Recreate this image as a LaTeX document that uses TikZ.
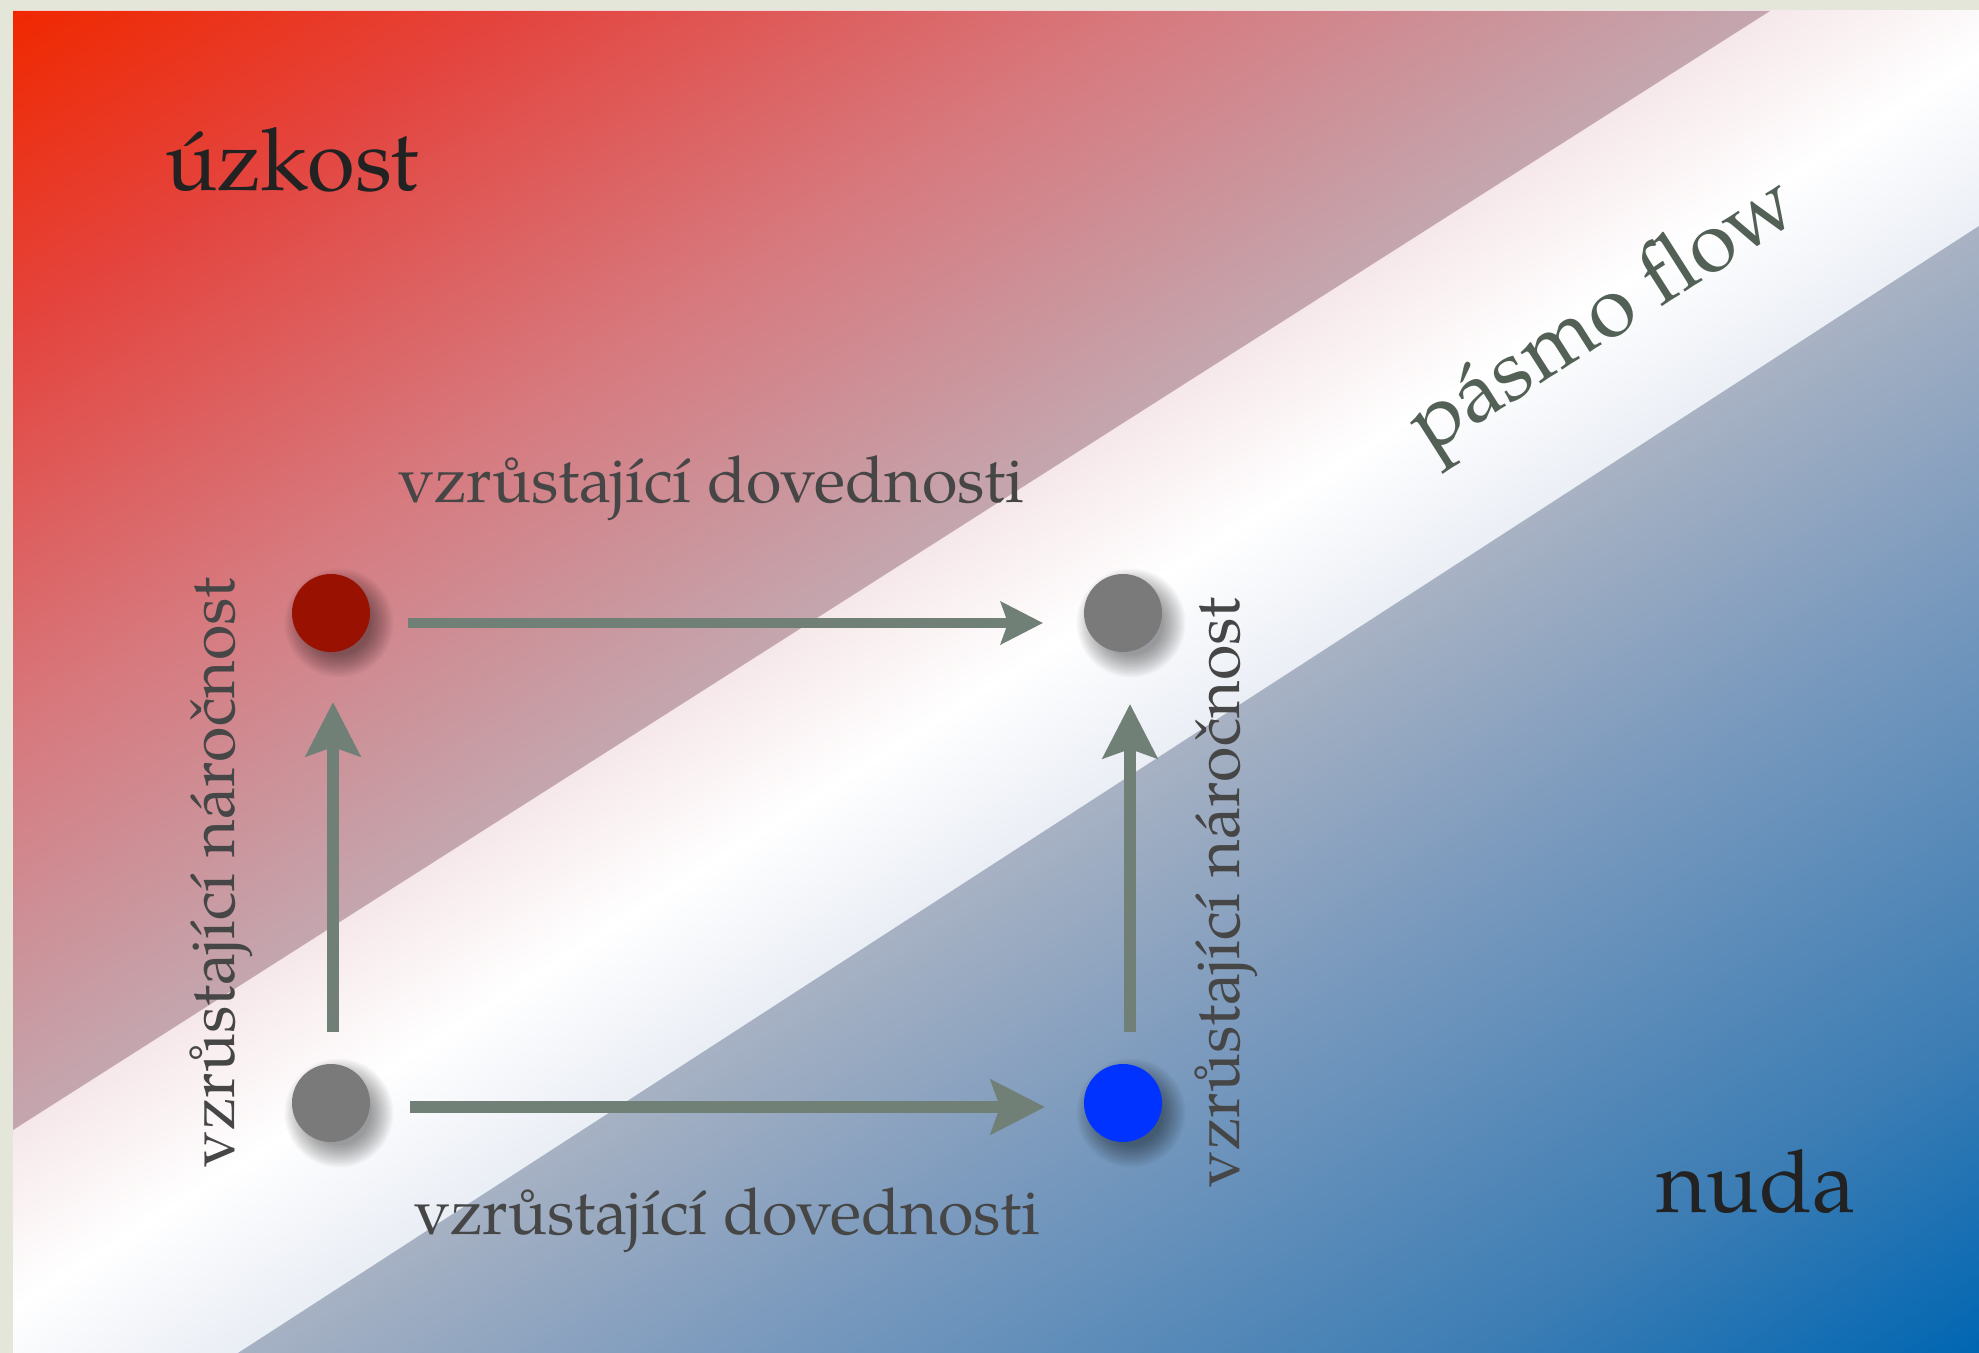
\documentclass[tikz,border=0pt]{standalone}
\usepackage{fontspec}
\setmainfont{texgyrepagella-regular.otf}
\usetikzlibrary{arrows.meta}
\definecolor{paper}{RGB}{228,230,218}
\definecolor{dotred}{RGB}{153,17,0}
\definecolor{dotgrey}{RGB}{122,122,122}
\definecolor{dotblue}{RGB}{0,51,255}
\definecolor{arrcol}{RGB}{112,128,119}
\definecolor{bigtxt}{RGB}{34,34,34}
\definecolor{midtxt}{RGB}{70,70,70}
\definecolor{flowtxt}{RGB}{82,96,86}
\pgfdeclarehorizontalshading{shup}{1250pt}{rgb(0pt)=(0.941,0.157,0); rgb(8pt)=(0.941,0.157,0); rgb(143.5pt)=(0.894,0.267,0.243); rgb(310pt)=(0.843,0.471,0.490); rgb(480pt)=(0.769,0.651,0.686); rgb(500pt)=(0.769,0.651,0.686)}
\pgfdeclarehorizontalshading{shband}{1250pt}{rgb(0pt)=(0.965,0.910,0.918); rgb(480pt)=(0.965,0.910,0.918); rgb(555pt)=(1,1,1); rgb(631pt)=(0.918,0.933,0.961); rgb(1120pt)=(0.918,0.933,0.961)}
\pgfdeclarehorizontalshading{shlow}{1250pt}{rgb(0pt)=(0.659,0.698,0.765); rgb(628pt)=(0.659,0.698,0.765); rgb(759pt)=(0.490,0.608,0.745); rgb(967.5pt)=(0.235,0.490,0.706); rgb(1101.5pt)=(0,0.4,0.698); rgb(1120pt)=(0,0.4,0.698)}
\pgfdeclarelayer{back}
\pgfdeclarelayer{shadowlayer}
\pgfsetlayers{back,shadowlayer,main}
\tikzset{
  shadenode/.style={inner sep=0pt, outer sep=0pt, anchor=west, rotate=-57.5},
  dot/.style={circle, inner sep=0pt, outer sep=0pt, minimum size=39pt, draw=none},
  arrA/.style={draw=arrcol, line width=5pt, -{Stealth[length=21pt,width=21pt,inset=3.5pt]}},
  arrB/.style={draw=arrcol, line width=6.25pt, -{Stealth[length=27pt,width=27pt,inset=4.5pt]}},
  bigl/.style={inner sep=0pt, outer sep=0pt, text=bigtxt, font=\fontsize{43.5pt}{52pt}\selectfont},
  midl/.style={inner sep=0pt, outer sep=0pt, text=midtxt, font=\fontsize{32.3pt}{38pt}\selectfont},
  flowl/.style={inner sep=0pt, outer sep=0pt, text=flowtxt, font=\fontsize{42.8pt}{50pt}\selectfont}
}
\begin{document}
\begin{tikzpicture}[x=0.5pt,y=-0.5pt]
\useasboundingbox (0,0) rectangle (1979,1353);
\begin{pgfonlayer}{back}
\fill[paper] (0,0) rectangle (1979,1353);
\begin{scope}
\clip (13,11) rectangle (1979,1353);
\node[shadenode] (s1) at (399,-254) {\pgfuseshading{shband}};
\end{scope}
\begin{scope}
\clip (13,11) -- (1770,11) -- (13,1130) -- cycle;
\node[shadenode] (s2) at (399,-254) {\pgfuseshading{shup}};
\end{scope}
\begin{scope}
\clip (238,1353) -- (1979,226) -- (1979,1353) -- cycle;
\node[shadenode] (s3) at (399,-254) {\pgfuseshading{shlow}};
\end{scope}
\end{pgfonlayer}

\node[dot, fill=dotred] (r) at (331,613) {};
\node[dot, fill=dotgrey] (g1) at (1123,613) {};
\node[dot, fill=dotgrey] (g2) at (331,1103) {};
\node[dot, fill=dotblue] (b) at (1123,1103) {};

\begin{pgfonlayer}{shadowlayer}
\foreach \n in {r,g1,g2,b} {
  \foreach \i in {0,...,15} {
    \pgfmathsetmacro\rr{16+0.75*\i}
    \fill[black, opacity=0.028] ([shift={(4pt,-5pt)}]\n.center) circle[radius=\rr pt];
  }
}
\end{pgfonlayer}

\draw[arrA, shorten <=19pt, shorten >=20.5pt] ([yshift=-5pt]r.east) -- ([yshift=-5pt]g1.west);
\draw[arrB, shorten <=20pt, shorten >=19.5pt] ([yshift=-2pt]g2.east) -- ([yshift=-2pt]b.west);
\draw[arrB, shorten <=16pt, shorten >=25pt] ([xshift=1pt]g2.north) -- ([xshift=1pt]r.south);
\draw[arrB, shorten <=16pt, shorten >=26pt] ([xshift=3.5pt]b.north) -- ([xshift=3.5pt]g1.south);

\node[bigl, anchor=base west] (uz) at (165,191) {úzkost};
\node[bigl, anchor=base west] (nd) at (1656,1212) {nuda};
\node[midl, anchor=base west] (t1) at (398,502) {vzrůstající dovednosti};
\node[midl, anchor=base west] (t2) at (414,1234) {vzrůstající dovednosti};
\node[midl, anchor=base west, rotate=90] (t3) at (234,1167) {vzrůstající náročnost};
\node[midl, anchor=base west, rotate=90] (t4) at (1239,1187) {vzrůstající náročnost};
\node[flowl, anchor=base, rotate=32.5] (fl) at (1616,336) {pásmo flow};
\end{tikzpicture}
\end{document}
